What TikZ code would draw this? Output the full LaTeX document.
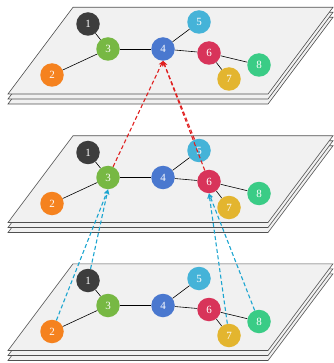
\documentclass[tikz,border=0pt]{standalone}
\usepackage{fontspec}
\setmainfont{Liberation Serif}
\usetikzlibrary{arrows.meta}
\definecolor{c1}{HTML}{3D3D3D}
\definecolor{c2}{HTML}{F5821F}
\definecolor{c3}{HTML}{77B843}
\definecolor{c4}{HTML}{4A78CF}
\definecolor{c5}{HTML}{45B3D8}
\definecolor{c6}{HTML}{D8345A}
\definecolor{c7}{HTML}{E3B52F}
\definecolor{c8}{HTML}{3ACC86}
\definecolor{redd}{HTML}{E02020}
\definecolor{blued}{HTML}{1BA5D0}
\definecolor{sheetfill}{HTML}{F1F1F1}
\definecolor{sheetline}{HTML}{505050}
\begin{document}
\begin{tikzpicture}[x=1pt,y=-1pt,
  vtx/.style={circle,minimum size=23.5pt,inner sep=0pt,text=white,font=\fontsize{11}{11}\selectfont},
  link/.style={black,line width=0.6pt},
  sheet/.style={fill=sheetfill,draw=sheetline,line width=0.6pt},
  reddash/.style={draw=redd,line width=1.1pt,dash pattern=on 4pt off 2.5pt,-{Stealth[length=5pt,width=5pt]}},
  bluedash/.style={draw=blued,line width=1.1pt,dash pattern=on 4pt off 2.5pt,-{Stealth[length=5pt,width=5pt]}}]
\useasboundingbox (0,0) rectangle (333,363);
\foreach \p/\o in {t/0,m/128.5,b/256.5}{
  \begin{scope}[shift={(0,\o)}]
    \foreach \k in {2,1,0}{
      \begin{scope}[shift={(0,5*\k)}]
        \draw[sheet] (73,7.3) -- (333,7.3) -- (268,94) -- (8,94) -- cycle;
      \end{scope}
    }
    \node[vtx,fill=c1] (\p1) at (88,24) {1};
    \node[vtx,fill=c2] (\p2) at (52,75) {2};
    \node[vtx,fill=c3] (\p3) at (108,49) {3};
    \node[vtx,fill=c4] (\p4) at (163,49) {4};
    \node[vtx,fill=c5] (\p5) at (199,22) {5};
    \node[vtx,fill=c6] (\p6) at (209,53) {6};
    \node[vtx,fill=c7] (\p7) at (229,79) {7};
    \node[vtx,fill=c8] (\p8) at (259,65) {8};
    \draw[link] (\p1) -- (\p3);
    \draw[link] (\p3) -- (\p2);
    \draw[link] (\p3) -- (\p4);
    \draw[link] (\p4) -- (\p5);
    \draw[link] (\p4) -- (\p6);
    \draw[link] (\p6) -- (\p7);
    \draw[link] (\p6) -- (\p8);
  \end{scope}
}
\draw[reddash] (m3) -- (t4.south);
\draw[reddash] (m5) -- (t4.south);
\draw[reddash] (m6) -- (t4.south);
\draw[bluedash] (b1) -- (m3.south);
\draw[bluedash] (b2) -- (m3.south);
\draw[bluedash] (b7) -- (m6.south);
\draw[bluedash] (b8) -- (m6.south);
\end{tikzpicture}
\end{document}
